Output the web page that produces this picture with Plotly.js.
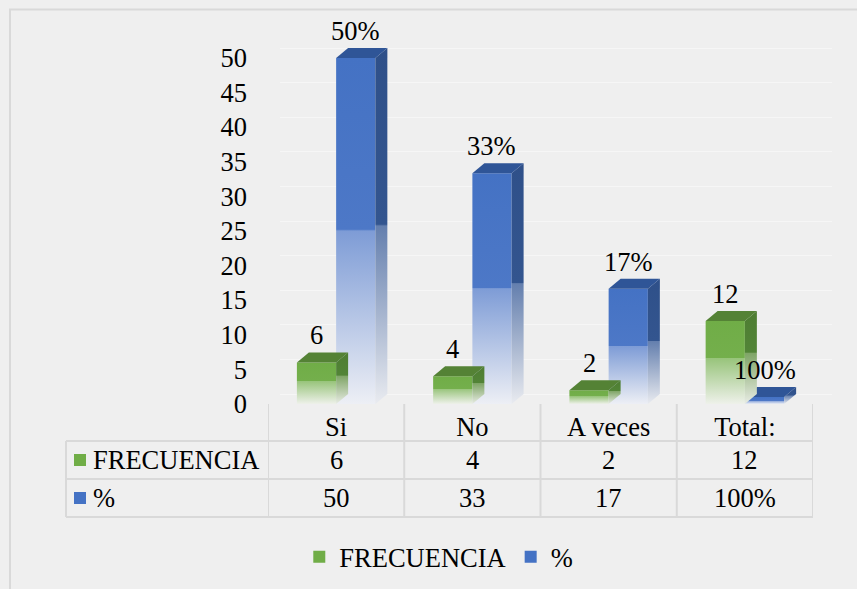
<!DOCTYPE html>
<html>
<head>
<meta charset="utf-8">
<script src="https://cdn.plot.ly/plotly-3.0.1.min.js"></script>
<style>
  html, body { margin: 0; padding: 0; background: #efefef; }
  #chart { width: 857px; height: 589px; }
</style>
</head>
<body>
<div id="chart"></div>
<script>
// ---- data ----
const categories = ['Si', 'No', 'A veces', 'Total:'];
const frecuencia = [6, 4, 2, 12];
const porcentaje = [50, 33.33, 16.67, 1];      // plotted values (Total 100% plotted as 1)
const pctLabels = ['50%', '33%', '17%', '100%'];
const tableFrec = ['6', '4', '2', '12'];
const tablePct = ['50', '33', '17', '100%'];
const seriesNames = ['FRECUENCIA', '%'];
const yTickVals = [0, 5, 10, 15, 20, 25, 30, 35, 40, 45, 50];

// ---- geometry / style ----
const PW = 857, PH = 589;
const px = x => x / PW;
const py = y => 1 - y / PH;
const BW = 0.288;   // bar width (x units)
const DX = 0.088;   // depth offset x (x units)
const DY = 1.445;   // depth offset y (y units)
const FONT = '"Liberation Serif", serif';
const FS = 26.5;

const styles = {
  green: {
    front: [[0, '#eef1ea'], [0.55, '#98c47b'], [0.555, '#74af4c'], [1, '#70ad47']],
    side:  [[0, '#e8ece4'], [0.55, '#7ea465'], [0.555, '#528437'], [1, '#4e7d32']],
    top: '#548235'
  },
  blue: {
    front: [[0, '#edeff5'], [0.5, '#7e9cd6'], [0.505, '#4d78c7'], [1, '#4472c4']],
    side:  [[0, '#e9ebf0'], [0.5, '#647fae'], [0.505, '#33558f'], [1, '#2f5089']],
    top: '#2f5597'
  }
};

function barFaces(xl, v, st) {
  const common = { type: 'scatter', mode: 'lines', line: { width: 0 }, fill: 'toself',
    hoverinfo: 'skip', showlegend: false, xaxis: 'x2', yaxis: 'y2' };
  const front = Object.assign({}, common, {
    x: [xl, xl + BW, xl + BW, xl, xl], y: [0, 0, v, v, 0],
    fillcolor: st.front[3][1],
    fillgradient: { type: 'vertical', colorscale: st.front, start: 0, stop: v }
  });
  const side = Object.assign({}, common, {
    x: [xl + BW, xl + BW + DX, xl + BW + DX, xl + BW, xl + BW], y: [0, DY, v + DY, v, 0],
    fillcolor: st.side[3][1],
    fillgradient: { type: 'vertical', colorscale: st.side, start: 0, stop: v + DY }
  });
  const top = Object.assign({}, common, {
    x: [xl, xl + BW, xl + BW + DX, xl + DX, xl], y: [v, v, v + DY, v + DY, v],
    fillcolor: st.top
  });
  return [front, side, top];
}

const traces = [];
// legend entries (zero-height bars, only for the legend)
traces.push({ type: 'bar', x: [0], y: [0], name: seriesNames[0], marker: { color: '#70ad47', line: { width: 0 } },
  xaxis: 'x2', yaxis: 'y2', hoverinfo: 'skip' });
traces.push({ type: 'bar', x: [0], y: [0], name: seriesNames[1], marker: { color: '#4472c4', line: { width: 0 } },
  xaxis: 'x2', yaxis: 'y2', hoverinfo: 'skip' });
// grid subplot helper trace
traces.push({ type: 'scatter', x: [null], y: [null], xaxis: 'x', yaxis: 'y', showlegend: false, hoverinfo: 'skip' });

// blue (% series) first, green drawn on top
porcentaje.forEach((v, i) => { traces.push(...barFaces(i, v, styles.blue)); });
frecuencia.forEach((v, i) => { traces.push(...barFaces(i - BW, v, styles.green)); });

const annotations = [];
frecuencia.forEach((v, i) => {
  annotations.push({ xref: 'x2', yref: 'y2', x: i - BW / 2, y: v + DY, text: String(v),
    showarrow: false, yanchor: 'bottom', font: { family: FONT, size: FS, color: '#000' } });
});
porcentaje.forEach((v, i) => {
  annotations.push({ xref: 'x2', yref: 'y2', x: i + BW / 2, y: v + DY, text: pctLabels[i],
    showarrow: false, yanchor: 'bottom', font: { family: FONT, size: FS, color: '#000' } });
});
// data table
const rowY = [py(460), py(498)];
[tableFrec, tablePct].forEach((row, r) => {
  row.forEach((t, i) => {
    annotations.push({ xref: 'x2', yref: 'paper', x: i, y: rowY[r], text: t, showarrow: false,
      xanchor: 'center', yanchor: 'middle', font: { family: FONT, size: FS, color: '#000' } });
  });
  annotations.push({ xref: 'paper', yref: 'paper', x: px(91), y: rowY[r], text: seriesNames[r],
    showarrow: false, xanchor: 'left', yanchor: 'middle', font: { family: FONT, size: FS, color: '#000' } });
});

const lineC = '#d9d9d9';
const shapes = [];
// outer chart border (left/top visible)
shapes.push({ type: 'rect', xref: 'paper', yref: 'paper', x0: px(10), x1: 1.2, y0: -0.2, y1: py(9.5),
  line: { color: lineC, width: 2 }, fillcolor: 'rgba(0,0,0,0)', layer: 'below' });
// table verticals at category boundaries
[-0.5, 0.5, 1.5, 2.5, 3.5].forEach(b => {
  shapes.push({ type: 'line', xref: 'x2', yref: 'paper', x0: b, x1: b, y0: py(404), y1: py(517),
    line: { color: lineC, width: 2 } });
});
shapes.push({ type: 'line', xref: 'paper', yref: 'paper', x0: px(66), x1: px(66), y0: py(441), y1: py(517),
  line: { color: lineC, width: 2 } });
[441, 479, 517].forEach(y => {
  shapes.push({ type: 'line', xref: 'paper', yref: 'paper', x0: px(66), x1: px(813), y0: py(y), y1: py(y),
    line: { color: lineC, width: 2 } });
});
// legend keys in table
shapes.push({ type: 'rect', xref: 'paper', yref: 'paper', x0: px(74), x1: px(86), y0: py(466), y1: py(454),
  line: { width: 0 }, fillcolor: '#70ad47' });
shapes.push({ type: 'rect', xref: 'paper', yref: 'paper', x0: px(74), x1: px(86), y0: py(504), y1: py(492),
  line: { width: 0 }, fillcolor: '#4472c4' });

const yDom = [py(404), py(404 - 55 * 6.92)];
const layout = {
  width: PW, height: PH,
  margin: { l: 0, r: 0, t: 0, b: 0 },
  paper_bgcolor: '#efefef',
  plot_bgcolor: 'rgba(0,0,0,0)',
  font: { family: FONT, size: FS, color: '#000' },
  showlegend: true,
  legend: { orientation: 'h', x: 0.512, xanchor: 'center', y: py(557), yanchor: 'middle',
    bgcolor: 'rgba(0,0,0,0)', font: { family: FONT, size: FS, color: '#000' }, traceorder: 'normal',
    itemwidth: 30 },
  // grid subplot (back wall), shifted by depth
  xaxis: { domain: [px(280), px(832)], range: [0, 1], visible: false, anchor: 'y', fixedrange: true },
  yaxis: { domain: yDom, range: [-DY, 55 - DY], anchor: 'x', tickvals: yTickVals, showticklabels: false,
    showgrid: true, gridcolor: '#f6f6f6', gridwidth: 1, zeroline: false, showline: false, ticks: '' },
  // data subplot
  xaxis2: { domain: [px(268), px(813)], range: [-0.5, 3.5], anchor: 'y2', tickvals: [0, 1, 2, 3],
    ticktext: categories, showgrid: false, zeroline: false, showline: false, ticks: '',
    ticklabelstandoff: 4, tickfont: { family: FONT, size: FS, color: '#000' } },
  yaxis2: { domain: yDom, range: [0, 55], anchor: 'x2', tickvals: yTickVals, showgrid: false,
    zeroline: false, showline: false, ticks: '', ticklabelstandoff: 20,
    tickfont: { family: FONT, size: FS, color: '#000' } },
  annotations: annotations,
  shapes: shapes
};

Plotly.newPlot('chart', traces, layout, { displayModeBar: false, staticPlot: true });
</script>
</body>
</html>
